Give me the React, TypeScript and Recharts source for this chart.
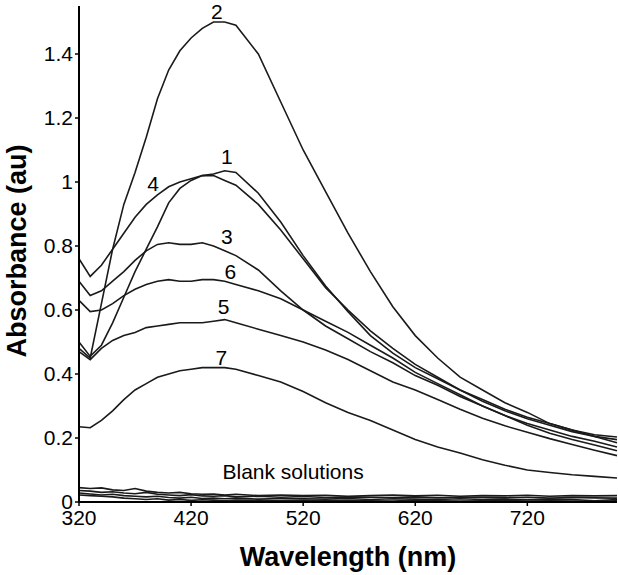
import { Label, Line, LineChart, ReferenceDot, XAxis, YAxis } from "recharts";

const wavelengths = [
  320, 330, 340, 350, 360, 370, 380, 390, 400, 410, 420, 430, 440, 450, 460,
  480, 500, 520, 540, 560, 580, 600, 620, 640, 660, 680, 700, 720, 740, 760, 780, 800,
];

const curve1 = [0.5, 0.455, 0.49, 0.56, 0.64, 0.72, 0.79, 0.86, 0.935, 0.98, 1.005, 1.02, 1.025, 1.035, 1.03, 0.965, 0.875, 0.77, 0.675, 0.595, 0.52, 0.465, 0.42, 0.385, 0.35, 0.315, 0.285, 0.26, 0.24, 0.22, 0.205, 0.195];
const curve2 = [0.48, 0.45, 0.62, 0.79, 0.93, 1.03, 1.14, 1.26, 1.35, 1.41, 1.45, 1.48, 1.5, 1.5, 1.49, 1.4, 1.25, 1.1, 0.97, 0.84, 0.72, 0.61, 0.52, 0.45, 0.39, 0.35, 0.31, 0.28, 0.245, 0.225, 0.21, 0.203];
const curve3 = [0.69, 0.645, 0.66, 0.69, 0.72, 0.755, 0.785, 0.805, 0.81, 0.805, 0.805, 0.81, 0.8, 0.785, 0.77, 0.725, 0.66, 0.6, 0.55, 0.51, 0.47, 0.435, 0.395, 0.365, 0.33, 0.3, 0.27, 0.245, 0.225, 0.205, 0.19, 0.172];
const curve4 = [0.76, 0.705, 0.74, 0.79, 0.84, 0.89, 0.93, 0.96, 0.985, 1.0, 1.01, 1.02, 1.02, 1.005, 0.99, 0.93, 0.85, 0.76, 0.67, 0.6, 0.535, 0.48, 0.43, 0.39, 0.35, 0.32, 0.29, 0.265, 0.245, 0.225, 0.205, 0.185];
const curve5 = [0.47, 0.445, 0.48, 0.505, 0.52, 0.53, 0.545, 0.55, 0.555, 0.56, 0.56, 0.56, 0.565, 0.57, 0.56, 0.54, 0.52, 0.5, 0.475, 0.445, 0.41, 0.375, 0.35, 0.32, 0.29, 0.262, 0.238, 0.218, 0.198, 0.18, 0.162, 0.145];
const curve6 = [0.63, 0.595, 0.6, 0.62, 0.645, 0.665, 0.68, 0.69, 0.695, 0.69, 0.69, 0.695, 0.695, 0.69, 0.68, 0.66, 0.635, 0.6, 0.565, 0.53, 0.49, 0.45, 0.405, 0.37, 0.335, 0.3, 0.27, 0.24, 0.215, 0.195, 0.178, 0.16];
const curve7 = [0.235, 0.232, 0.255, 0.285, 0.32, 0.35, 0.37, 0.39, 0.4, 0.41, 0.415, 0.42, 0.42, 0.42, 0.415, 0.395, 0.375, 0.345, 0.31, 0.28, 0.255, 0.225, 0.195, 0.172, 0.153, 0.132, 0.115, 0.1, 0.092, 0.085, 0.08, 0.075];

const blank1 = [0.045, 0.042, 0.044, 0.038, 0.036, 0.042, 0.034, 0.03, 0.028, 0.03, 0.026, 0.024, 0.025, 0.022, 0.024, 0.02, 0.022, 0.02, 0.021, 0.018, 0.02, 0.022, 0.019, 0.021, 0.018, 0.02, 0.019, 0.021, 0.018, 0.02, 0.019, 0.02];
const blank2 = [0.036, 0.034, 0.03, 0.032, 0.028, 0.026, 0.03, 0.024, 0.022, 0.02, 0.023, 0.019, 0.018, 0.02, 0.016, 0.018, 0.015, 0.017, 0.014, 0.016, 0.015, 0.014, 0.016, 0.013, 0.015, 0.014, 0.013, 0.015, 0.012, 0.014, 0.013, 0.012];
const blank3 = [0.028, 0.025, 0.022, 0.024, 0.02, 0.018, 0.016, 0.018, 0.014, 0.012, 0.015, 0.011, 0.012, 0.01, 0.012, 0.009, 0.011, 0.01, 0.009, 0.011, 0.008, 0.01, 0.009, 0.008, 0.01, 0.008, 0.009, 0.007, 0.009, 0.008, 0.004, 0.008];
const blank4 = [0.022, 0.02, 0.018, 0.016, 0.012, 0.01, 0.008, 0.01, 0.006, 0.008, 0.005, 0.007, 0.006, 0.004, 0.006, 0.005, 0.004, 0.006, 0.004, 0.005, 0.004, 0.003, 0.005, 0.004, 0.003, 0.004, 0.005, 0.003, 0.004, 0.003, 0.002, 0.004];

const xTicks = [320, 420, 520, 620, 720];
const yTicks = [0, 0.2, 0.4, 0.6, 0.8, 1, 1.2, 1.4];

// curve number labels, placed near each peak
const curveLabels = [
  { text: "2", x: 443, y: 1.532 },
  { text: "1", x: 452, y: 1.08 },
  { text: "4", x: 386, y: 0.995 },
  { text: "3", x: 452, y: 0.83 },
  { text: "6", x: 455, y: 0.72 },
  { text: "5", x: 449, y: 0.61 },
  { text: "7", x: 447, y: 0.45 },
  { text: "Blank solutions", x: 511, y: 0.094 },
];

const seriesKeys = ["c1", "c2", "c3", "c4", "c5", "c6", "c7", "b1", "b2", "b3", "b4"];
const seriesValues = [curve1, curve2, curve3, curve4, curve5, curve6, curve7, blank1, blank2, blank3, blank4];

const data = wavelengths.map((w, i) => {
  const row: Record<string, number> = { w };
  seriesKeys.forEach((k, j) => {
    row[k] = seriesValues[j][i];
  });
  return row;
});

const font = "'Liberation Sans', Arial, sans-serif";

const XTitle = (props: any) => {
  const vb = props.viewBox;
  return (
    <text x={vb.x + vb.width / 2} y={566} textAnchor="middle" fontFamily={font} fontWeight="bold" fontSize={27} fill="#000">
      Wavelength (nm)
    </text>
  );
};

const YTitle = () => (
  <text
    x={26}
    y={251}
    transform="rotate(-90 26 251)"
    textAnchor="middle"
    fontFamily={font}
    fontWeight="bold"
    fontSize={27}
    fill="#000"
  >
    Absorbance (au)
  </text>
);

export default function App() {
  return (
    <div style={{ position: "absolute", left: 0, top: 0, background: "#fff" }}>
      <LineChart width={618} height={575} data={data} margin={{ top: 6, right: 1, left: 0, bottom: 0 }}>
        <XAxis
          dataKey="w"
          type="number"
          domain={[320, 800]}
          ticks={xTicks}
          height={73}
          tickSize={4}
          tickMargin={4}
          tick={{ fill: "#000", fontSize: 21, fontFamily: font }}
          axisLine={{ stroke: "#000", strokeWidth: 2 }}
          tickLine={{ stroke: "#000", strokeWidth: 1.5 }}
        >
          <Label content={XTitle} />
        </XAxis>
        <YAxis
          type="number"
          domain={[0, 1.55]}
          ticks={yTicks}
          width={79}
          tickSize={4}
          tick={{ fill: "#000", fontSize: 21, fontFamily: font }}
          axisLine={{ stroke: "#000", strokeWidth: 2 }}
          tickLine={{ stroke: "#000", strokeWidth: 1.5 }}
        >
          <Label content={YTitle} />
        </YAxis>
        {seriesKeys.map((k) => (
          <Line
            key={k}
            dataKey={k}
            type="linear"
            stroke="#1a1a1a"
            strokeWidth={1.6}
            dot={false}
            activeDot={false}
            isAnimationActive={false}
          />
        ))}
        {curveLabels.map((l) => (
          <ReferenceDot
            key={l.text}
            x={l.x}
            y={l.y}
            r={0}
            fill="none"
            stroke="none"
            ifOverflow="visible"
            label={{ value: l.text, position: "center", fill: "#000", fontSize: 21, fontFamily: font }}
          />
        ))}
      </LineChart>
    </div>
  );
}
